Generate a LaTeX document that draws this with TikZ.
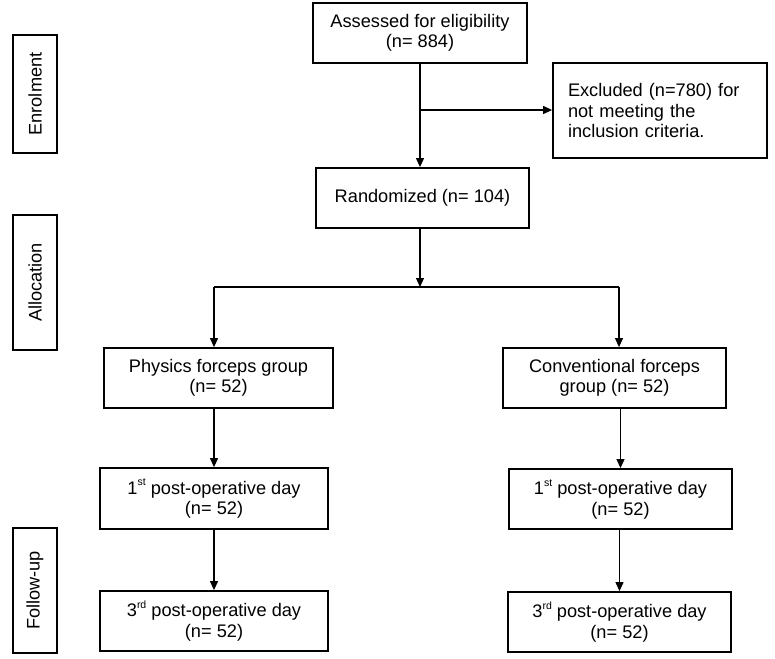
\documentclass[tikz,border=0pt]{standalone}
\usepackage{fontspec}
\setmainfont{Liberation Sans}
\usetikzlibrary{arrows.meta}
\newcommand{\supx}[1]{\raisebox{8.5pt}{\fontsize{10.5}{10.5}\selectfont #1}}
\begin{document}
\begin{tikzpicture}[x=1pt,y=-1pt,
 box/.style={draw, line width=1.8pt, align=center, inner sep=0pt, font=\fontsize{18.2}{20.5}\selectfont},
 side/.style={draw, line width=1.8pt, inner sep=0pt, rotate=90, minimum height=44pt, font=\fontsize{18.2}{20.5}\selectfont},
 arr/.style={line width=1.1pt, -{Triangle[length=9pt,width=8pt]}},
 ln/.style={line width=1.1pt}]
\useasboundingbox (0,0) rectangle (775,658);

% side labels
\node[side, minimum width=118pt] (enrol) at (35,94) {Enrolment};
\node[side, minimum width=135pt] (alloc) at (35,282.5) {Allocation};
\node[side, minimum width=125pt] (follow) at (35,590.5) {Follow-up};

% main boxes
\node[box, minimum width=214pt, minimum height=60pt] (assess) at (420,33) {Assessed for eligibility\\(n= 884)};
\node[box, align=left, text width=184pt, inner xsep=15pt, minimum height=95pt] (excl) at (660,110.5) {Excluded (n=780) for\\not meeting the\\inclusion criteria.};
\node[box, minimum width=213pt, minimum height=60pt] (rand) at (422.5,198) {Randomized (n= 104)};
\node[box, minimum width=229pt, minimum height=60pt] (phys) at (218.5,378) {Physics forceps group\\(n= 52)};
\node[box, minimum width=223pt, minimum height=60pt] (conv) at (614.5,378) {Conventional forceps\\group (n= 52)};
\node[box, minimum width=228pt, minimum height=61pt] (firstL) at (214,498.5) {1\supx{st} post-operative day\\(n= 52)};
\node[box, minimum width=228pt, minimum height=60pt] (thirdL) at (214,621) {3\supx{rd} post-operative day\\(n= 52)};
\node[box, minimum width=223pt, minimum height=60pt] (firstR) at (620.5,499) {1\supx{st} post-operative day\\(n= 52)};
\node[box, minimum width=223pt, minimum height=60pt] (thirdR) at (619.5,622) {3\supx{rd} post-operative day\\(n= 52)};

% connectors
\coordinate (j1) at (420,110);
\coordinate (split) at (420,287);
\coordinate (lsplit) at (214,287);
\coordinate (rsplit) at (619,287);

\draw[arr] (assess.south) -- (assess.south |- rand.north);
\draw[arr] (j1) -- (excl.west |- j1);
\draw[arr] (split |- rand.south) -- (split);
\draw[ln] (lsplit) -- (rsplit);
\draw[arr] (lsplit) -- (lsplit |- phys.north);
\draw[arr] (rsplit) -- (rsplit |- conv.north);
\draw[arr] (firstL.north |- phys.south) -- (firstL.north);
\draw[arr] (firstL.south) -- (firstL.south |- thirdL.north);
\draw[arr] (firstR.north |- conv.south) -- (firstR.north);
\draw[arr] (thirdR.north |- firstR.south) -- (thirdR.north);
\end{tikzpicture}
\end{document}
